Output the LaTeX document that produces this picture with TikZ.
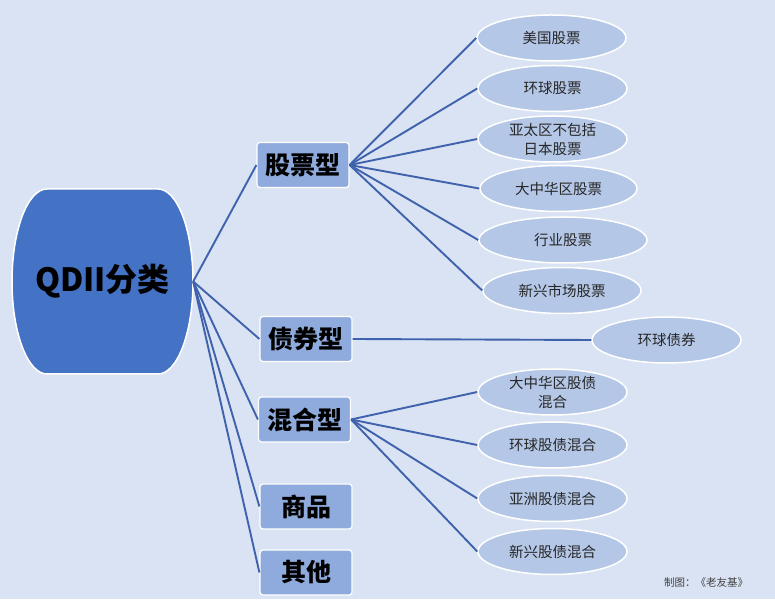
\documentclass[tikz,border=0pt]{standalone}
\usepackage{fontspec}
\setmainfont{Noto Sans CJK SC}
\usetikzlibrary{positioning}
\usetikzlibrary{shapes}
\definecolor{bgblue}{HTML}{DAE3F3}
\definecolor{rootblue}{HTML}{4472C4}
\definecolor{boxblue}{HTML}{8FAADC}
\definecolor{leafblue}{HTML}{B4C7E7}
\definecolor{linkblue}{HTML}{3F62AD}
\tikzstyle{rootnode}=[rectangle,minimum width=181pt,minimum height=185pt,inner sep=0pt,font=\fontsize{32}{32}\selectfont\bfseries]
\tikzstyle{catbox}=[rectangle,rounded corners=3pt,fill=boxblue,draw=white,line width=1.2pt,minimum width=92pt,minimum height=45pt,inner sep=0pt,font=\fontsize{25}{25}\selectfont\bfseries]
\tikzstyle{leaf}=[ellipse,fill=leafblue,draw=white,line width=1.5pt,minimum height=46pt,inner sep=0pt,align=center,text=black!85,font=\fontsize{14.5}{19}\selectfont]
\tikzstyle{link} = [draw,line width=1.9pt,linkblue]
\tikzstyle{credit} = [font=\fontsize{10.5}{12}\selectfont,text=black!75]

\begin{document}
\begin{tikzpicture}[x=1pt,y=1pt]

  \fill[bgblue] (0,0) rectangle (775,599);

  % root
  \draw[fill=rootblue,draw=white,line width=1.5pt] (47,410) -- (158,410) arc[start angle=90,end angle=-90,x radius=35pt,y radius=92.5pt] -- (47,225) arc[start angle=270,end angle=90,x radius=35pt,y radius=92.5pt] -- cycle;
  \node[rootnode] (root) at (102.5,317.5) {QDII分类};

  % categories
  \foreach \y/\x/\name/\label in {434/303/stock/股票型, 260/306/bond/债券型, 179.5/304.5/mixed/混合型, 92.5/306/goods/商品, 26.5/306/other/其他}
         \node[catbox] (\name) at (\x,\y) {\label};

  % leaves
  \foreach \y/\x/\w/\name/\label in {561/551.5/149/us/美国股票, 510.5/552.5/149/gstock/环球股票, 460/552.5/149/apac/{亚太区不包括\\日本股票}, 410.5/558.5/157/gcstock/大中华区股票, 359/563/168/sector/行业股票, 308.5/562/158/emstock/新兴市场股票}
         \node[leaf,minimum width=\w pt] (\name) at (\x,\y) {\label};

  \foreach \y/\x/\w/\name/\label in {259/666.5/149/gbond/环球债券}
         \node[leaf,minimum width=\w pt] (\name) at (\x,\y) {\label};

  \foreach \y/\x/\w/\name/\label in {207/552.5/149/gcmix/{大中华区股债\\混合}, 154/552.5/149/glmix/环球股债混合, 100.5/552.5/149/asmix/亚洲股债混合, 47.5/552.5/149/emmix/新兴股债混合}
         \node[leaf,minimum width=\w pt] (\name) at (\x,\y) {\label};

  % links
  \foreach \dest in {stock, bond, mixed, goods, other}
         \draw[link] (root.east) -- (\dest.west);

  \foreach \dest in {us, gstock, apac, gcstock, sector, emstock}
         \draw[link] (stock.east) -- (\dest.west);

  \foreach \dest in {gbond}
         \draw[link] (bond.east) -- (\dest.west);

  \foreach \dest in {gcmix, glmix, asmix, emmix}
         \draw[link] (mixed.east) -- (\dest.west);

  \node[credit] (note) at (706,16) {制图：《老友基》};

\end{tikzpicture}
\end{document}
